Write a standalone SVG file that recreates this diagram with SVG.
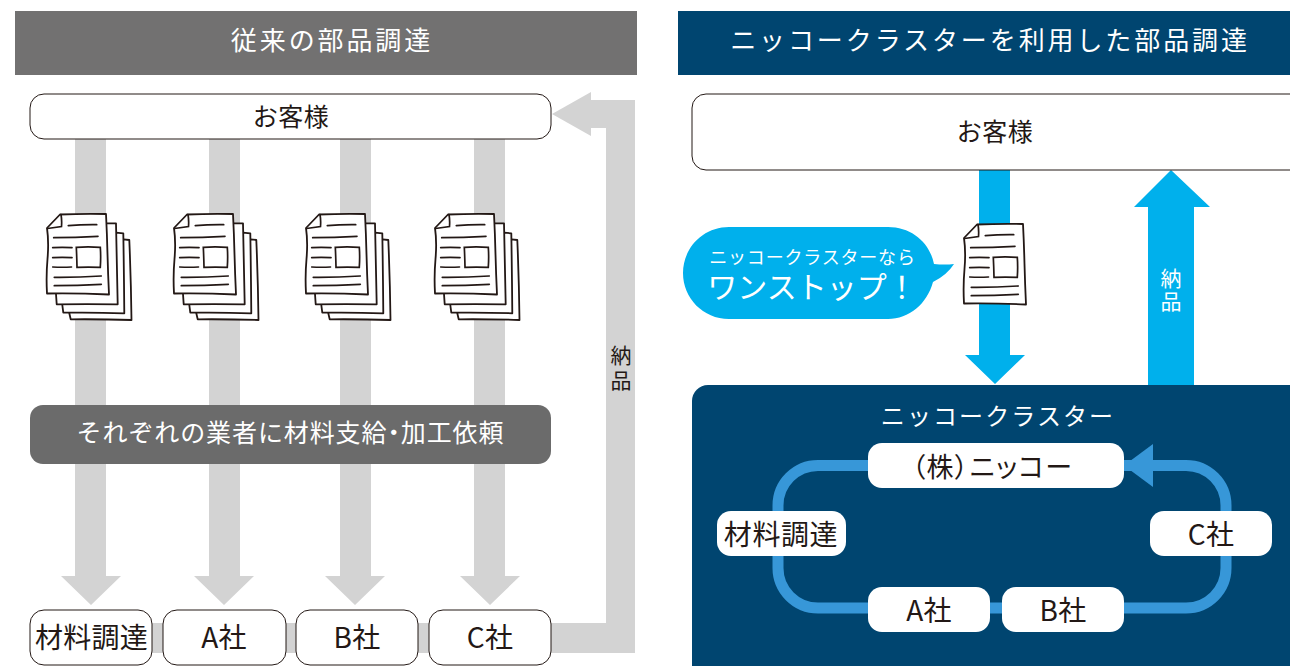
<svg xmlns="http://www.w3.org/2000/svg" width="1290" height="666" viewBox="0 0 1290 666">
<style>
text{font-family:"Noto Sans CJK JP","Noto Sans",sans-serif;text-anchor:middle;fill:#231815}
.w{fill:#fff}
.t{font-size:26px;letter-spacing:2.9px}
.n{font-size:28px;letter-spacing:.2px}
.v{font-size:21px;writing-mode:vertical-rl}
.palt{font-feature-settings:"palt"}
.box{fill:#fff;stroke:#231815;stroke-width:1}
.wb{fill:#fff}
.g{fill:#d3d3d3}
.c{fill:#00b0ec}
.p{fill:#fff;stroke:#231815;stroke-width:1.8;stroke-linejoin:round;stroke-linecap:round}
.l{fill:none;stroke:#231815;stroke-width:1.7;stroke-linecap:round}
</style>
<defs>
<g id="page">
<path class="p" d="M13 0.500Q36 -0.500 59 0Q60 20 60.500 40T62 80.500Q30 79 0 79.500Q-1 62 0.500 45T0 14Z"/>
<path class="l" d="M14 0.500Q15 6 14.500 12.500L0.500 14.500M21.300 11.700Q35 10.500 49.700 10.700M6.700 23.700Q28 23.500 51 22.300M5.700 33.700Q15 33 25 33.700M5.700 43.700Q15 43 25 43.700M5.700 53Q15 53.500 24.500 53M7.300 63.300Q30 63.500 54.300 62M7.300 71.700Q30 71.500 54.300 70.300M29.300 33.300Q41 32.600 53.300 33.300Q54 43 53.300 53.300Q41 52.800 30 53.300Q29.800 43 29.300 33.300Z"/>
</g>
<g id="stack">
<path class="p" d="M76.300 25.300L82.300 26Q84 66 84.500 106Q54 105 23.700 105.300L22.300 99.300Z"/>
<path class="p" d="M69 18.700L76.300 19.300Q77 60 77.300 99.300Q46 98.200 16.300 98.700L15.300 91Z"/>
<path class="p" d="M59 9.300L69 9.300Q70 50 70.700 90.300Q40 90 9.700 90.300L9 80Z"/>
<use href="#page"/>
</g>
</defs>

<g id="connectors">
<path class="g" d="M75 139H106V576H121L91 605L61 576H75Z"/>
<path class="g" d="M209 139H240V576H254L224 605L194 576H209Z"/>
<path class="g" d="M340 139H371V576H385L355 605L325 576H340Z"/>
<path class="g" d="M474 139H505V576H520L490 605L460 576H474Z"/>
<rect class="g" x="150" y="623" width="20" height="30"/>
<rect class="g" x="284" y="623" width="20" height="30"/>
<rect class="g" x="416" y="623" width="20" height="30"/>
<path class="g" d="M549 623H606V128H591V136L552 114L591 92V100H635V653H549Z"/>
<path class="c" d="M979 170H1010V355H1025L995 384L965 355H979Z"/>
<path class="c" d="M1148 385V207H1134L1171 170L1210 207H1194V385Z"/>
</g>

<g id="header-left"><rect x="15" y="11" width="622" height="64" fill="#727171"/><text class="t w" x="332" y="50">従来の部品調達</text></g>
<g id="header-right"><rect x="678" y="11" width="612" height="64" fill="#004570"/><text class="t w" x="990" y="50">ニッコークラスターを利用した部品調達</text></g>

<g id="customer-left"><rect class="box" x="30" y="94" width="521" height="45" rx="14"/><text x="291" y="126" font-size="25" letter-spacing=".5">お客様</text></g>
<g id="customer-right"><rect class="box" x="692" y="94" width="620" height="76" rx="14"/><text x="995" y="141" font-size="25" letter-spacing=".5">お客様</text></g>

<g id="docs-1"><use href="#stack" x="47" y="214"/></g>
<g id="docs-2"><use href="#stack" x="174" y="214"/></g>
<g id="docs-3"><use href="#stack" x="306" y="214"/></g>
<g id="docs-4"><use href="#stack" x="435" y="214"/></g>

<g id="band"><rect x="30" y="405" width="521" height="59" rx="13" fill="#6b6b6b"/><text class="w" x="290.500" y="442" font-size="25" letter-spacing=".9">それぞれの業者に材料支給<tspan class="palt">・</tspan>加工依頼</text></g>

<g id="delivery-left"><text class="v" x="621" y="370" letter-spacing="4">納品</text></g>

<g id="n-material"><rect class="box" x="30" y="610" width="122" height="55" rx="14"/><text class="n" x="91.500" y="648">材料調達</text></g>
<g id="n-a"><rect class="box" x="163" y="610" width="123" height="55" rx="14"/><text class="n" x="224" y="648">A社</text></g>
<g id="n-b"><rect class="box" x="296" y="610" width="122" height="55" rx="14"/><text class="n" x="357" y="648">B社</text></g>
<g id="n-c"><rect class="box" x="429" y="610" width="122" height="55" rx="14"/><text class="n" x="490" y="648">C社</text></g>

<g id="bubble"><path class="c" d="M729 227H888C912 227 930 243 934 264Q945 265 954 264Q947 275 933 282C927 304 909 319 888 319H729C703 319 683 298 683 273S703 227 729 227Z"/>
<text class="w"><tspan x="812.500" y="264" font-size="18" letter-spacing=".8">ニッコークラスターなら</tspan><tspan x="812" y="298" font-size="30">ワンストップ！</tspan></text></g>

<g id="doc-right"><use href="#page" x="964" y="224"/></g>

<g id="delivery-right"><text class="v w" x="1171" y="291" letter-spacing="2">納品</text></g>

<g id="cluster"><rect x="692" y="385" width="640" height="320" rx="16" fill="#004570"/>
<text class="w" x="998" y="425" font-size="24" letter-spacing="2.1">ニッコークラスター</text></g>

<g id="loop-connectors"><rect x="778" y="465.500" width="448" height="142.500" rx="40" fill="none" stroke="#3797d8" stroke-width="11"/>
<path fill="#3797d8" d="M1124 465.500L1153 444V487Z"/></g>

<g id="n2-nikko"><rect class="wb" x="868" y="443" width="256" height="45" rx="14"/><text class="palt" x="992.500" y="477" font-size="27" letter-spacing="1.300">（株）ニッコー</text></g>
<g id="n2-material"><rect class="wb" x="717" y="511" width="129" height="45" rx="14"/><text class="n" x="781" y="545" style="letter-spacing:.6px">材料調達</text></g>
<g id="n2-c"><rect class="wb" x="1150" y="511" width="122" height="45" rx="14"/><text class="n" x="1211" y="545">C社</text></g>
<g id="n2-a"><rect class="wb" x="868" y="587" width="122" height="45" rx="14"/><text class="n" x="929" y="621">A社</text></g>
<g id="n2-b"><rect class="wb" x="1002" y="587" width="122" height="45" rx="14"/><text class="n" x="1063" y="621">B社</text></g>
</svg>
